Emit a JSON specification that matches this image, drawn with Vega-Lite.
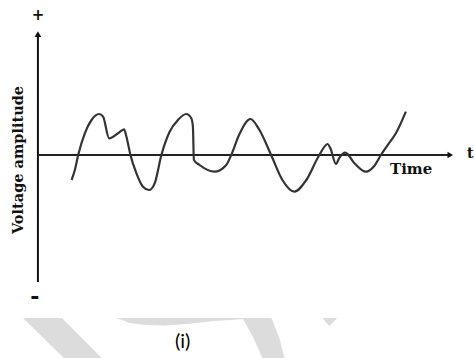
{
  "$schema": "https://vega.github.io/schema/vega-lite/v6.json",
  "width": 474,
  "height": 358,
  "padding": 0,
  "autosize": {"type": "fit", "contains": "padding"},
  "background": "white",
  "config": {"view": {"stroke": null}},
  "datasets": {
    "wave": [
      {"t": 0.843, "v": -0.625}, {"t": 0.925, "v": -0.375}, {"t": 1.008, "v": 0},
      {"t": 1.175, "v": 0.543}, {"t": 1.343, "v": 0.875}, {"t": 1.533, "v": 1.025},
      {"t": 1.633, "v": 0.958}, {"t": 1.783, "v": 0.418}, {"t": 2.008, "v": 0.543},
      {"t": 2.158, "v": 0.643}, {"t": 2.218, "v": 0.458}, {"t": 2.318, "v": 0},
      {"t": 2.468, "v": -0.458}, {"t": 2.633, "v": -0.793}, {"t": 2.783, "v": -0.875},
      {"t": 2.925, "v": -0.708}, {"t": 3.093, "v": 0}, {"t": 3.3, "v": 0.583},
      {"t": 3.508, "v": 0.875}, {"t": 3.718, "v": 1.025}, {"t": 3.843, "v": 0.918},
      {"t": 3.883, "v": 0.708}, {"t": 3.908, "v": -0.125}, {"t": 4.05, "v": -0.25},
      {"t": 4.425, "v": -0.418}, {"t": 4.718, "v": -0.25}, {"t": 4.843, "v": 0},
      {"t": 5.05, "v": 0.525}, {"t": 5.325, "v": 0.9}, {"t": 5.55, "v": 0.625},
      {"t": 5.843, "v": 0}, {"t": 6.125, "v": -0.625}, {"t": 6.425, "v": -0.918},
      {"t": 6.725, "v": -0.625}, {"t": 7.05, "v": 0}, {"t": 7.258, "v": 0.275},
      {"t": 7.325, "v": 0.175}, {"t": 7.468, "v": -0.225}, {"t": 7.55, "v": -0.075},
      {"t": 7.7, "v": 0.058}, {"t": 7.925, "v": -0.2}, {"t": 8.218, "v": -0.418},
      {"t": 8.425, "v": -0.275}, {"t": 8.593, "v": 0}, {"t": 8.8, "v": 0.3},
      {"t": 8.968, "v": 0.543}, {"t": 9.218, "v": 1.083}
    ],
    "shadeSide": [
      {"piece": "band", "v": -4.075, "t": -0.375, "t2": 0.6},
      {"piece": "band", "v": -5.075, "t": 0.65, "t2": 1.6},
      {"piece": "arc", "v": -4.075, "t": 5.125, "t2": 5.85},
      {"piece": "arc", "v": -4.575, "t": 5.4, "t2": 6.05},
      {"piece": "arc", "v": -5.075, "t": 5.625, "t2": 6.175}
    ],
    "shadeTop": [
      {"piece": "arcTop", "t": 1.975, "v": -4.075, "v2": -4.075},
      {"piece": "arcTop", "t": 2.3, "v": -4.075, "v2": -4.2},
      {"piece": "arcTop", "t": 2.675, "v": -4.075, "v2": -4.25},
      {"piece": "arcTop", "t": 3.175, "v": -4.075, "v2": -4.265},
      {"piece": "arcTop", "t": 3.8, "v": -4.075, "v2": -4.22},
      {"piece": "arcTop", "t": 4.425, "v": -4.075, "v2": -4.15},
      {"piece": "arcTop", "t": 5.175, "v": -4.075, "v2": -4.1},
      {"piece": "arcTop", "t": 5.3, "v": -4.075, "v2": -4.09},
      {"piece": "tri", "t": 7.125, "v": -4.075, "v2": -4.075},
      {"piece": "tri", "t": 7.3, "v": -4.075, "v2": -4.275},
      {"piece": "tri", "t": 7.5, "v": -4.075, "v2": -4.075}
    ]
  },
  "encoding": {
    "x": {"type": "quantitative", "scale": {"domain": [-0.95, 10.9], "nice": false, "zero": false}, "axis": null},
    "y": {"type": "quantitative", "scale": {"domain": [-5.075, 3.875], "nice": false, "zero": false}, "axis": null}
  },
  "layer": [
    {
      "data": {"name": "shadeSide"},
      "mark": {"type": "area", "orient": "horizontal", "color": "#dcdcdc"},
      "encoding": {
        "y": {"field": "v", "type": "quantitative"},
        "x": {"field": "t", "type": "quantitative"},
        "x2": {"field": "t2"},
        "detail": {"field": "piece"}
      }
    },
    {
      "data": {"name": "shadeTop"},
      "mark": {"type": "area", "orient": "vertical", "color": "#dcdcdc"},
      "encoding": {
        "x": {"field": "t", "type": "quantitative"},
        "y": {"field": "v", "type": "quantitative"},
        "y2": {"field": "v2"},
        "detail": {"field": "piece"}
      }
    },
    {
      "data": {"values": [{"t": 0, "v": -3.175, "v2": 3.05}]},
      "mark": {"type": "rule", "color": "#111", "strokeWidth": 2},
      "encoding": {
        "x": {"field": "t", "type": "quantitative"},
        "y": {"field": "v", "type": "quantitative"},
        "y2": {"field": "v2"}
      }
    },
    {
      "data": {"values": [{"t": 0, "t2": 10.3, "v": 0}]},
      "mark": {"type": "rule", "color": "#222", "strokeWidth": 2},
      "encoding": {
        "x": {"field": "t", "type": "quantitative"},
        "x2": {"field": "t2"},
        "y": {"field": "v", "type": "quantitative"}
      }
    },
    {
      "data": {"values": [{"t": 0, "v": 3.02}]},
      "mark": {"type": "point", "shape": "triangle-up", "filled": true, "color": "#111", "size": 45, "opacity": 1},
      "encoding": {
        "x": {"field": "t", "type": "quantitative"},
        "y": {"field": "v", "type": "quantitative"}
      }
    },
    {
      "data": {"values": [{"t": 10.33, "v": 0}]},
      "mark": {"type": "point", "shape": "triangle-right", "filled": true, "color": "#111", "size": 40, "opacity": 1},
      "encoding": {
        "x": {"field": "t", "type": "quantitative"},
        "y": {"field": "v", "type": "quantitative"}
      }
    },
    {
      "data": {"name": "wave"},
      "mark": {"type": "line", "interpolate": "monotone", "color": "#333", "strokeWidth": 2.2},
      "encoding": {
        "x": {"field": "t", "type": "quantitative"},
        "y": {"field": "v", "type": "quantitative"}
      }
    },
    {
      "data": {"values": [{"t": -0.475, "v": -0.125, "label": "Voltage amplitude"}]},
      "mark": {"type": "text", "angle": 270, "font": "DejaVu Serif", "fontWeight": "bold", "fontSize": 14.5, "baseline": "middle", "align": "center", "color": "#111"},
      "encoding": {
        "x": {"field": "t", "type": "quantitative"},
        "y": {"field": "v", "type": "quantitative"},
        "text": {"field": "label"}
      }
    },
    {
      "data": {"values": [{"t": 9.35, "v": -0.35, "label": "Time"}]},
      "mark": {"type": "text", "font": "DejaVu Serif", "fontWeight": "bold", "fontSize": 15, "baseline": "middle", "align": "center", "color": "#111"},
      "encoding": {
        "x": {"field": "t", "type": "quantitative"},
        "y": {"field": "v", "type": "quantitative"},
        "text": {"field": "label"}
      }
    },
    {
      "data": {"values": [{"t": 10.75, "v": 0.02, "label": "t"}]},
      "mark": {"type": "text", "font": "DejaVu Serif", "fontWeight": "bold", "fontSize": 14, "baseline": "middle", "align": "left", "color": "#111"},
      "encoding": {
        "x": {"field": "t", "type": "quantitative"},
        "y": {"field": "v", "type": "quantitative"},
        "text": {"field": "label"}
      }
    },
    {
      "data": {"values": [{"t": 0, "v": 3.5, "label": "+"}]},
      "mark": {"type": "text", "font": "DejaVu Sans", "fontWeight": "bold", "fontSize": 15, "baseline": "middle", "align": "center", "color": "#111"},
      "encoding": {
        "x": {"field": "t", "type": "quantitative"},
        "y": {"field": "v", "type": "quantitative"},
        "text": {"field": "label"}
      }
    },
    {
      "data": {"values": [{"t": -0.075, "v": -3.55, "label": "-"}]},
      "mark": {"type": "text", "font": "DejaVu Sans", "fontWeight": "bold", "fontSize": 22, "baseline": "middle", "align": "center", "color": "#111"},
      "encoding": {
        "x": {"field": "t", "type": "quantitative"},
        "y": {"field": "v", "type": "quantitative"},
        "text": {"field": "label"}
      }
    },
    {
      "data": {"values": [{"t": 3.625, "v": -4.675, "label": "(i)"}]},
      "mark": {"type": "text", "font": "Lato", "fontSize": 20, "baseline": "middle", "align": "center", "color": "#000"},
      "encoding": {
        "x": {"field": "t", "type": "quantitative"},
        "y": {"field": "v", "type": "quantitative"},
        "text": {"field": "label"}
      }
    }
  ]
}
